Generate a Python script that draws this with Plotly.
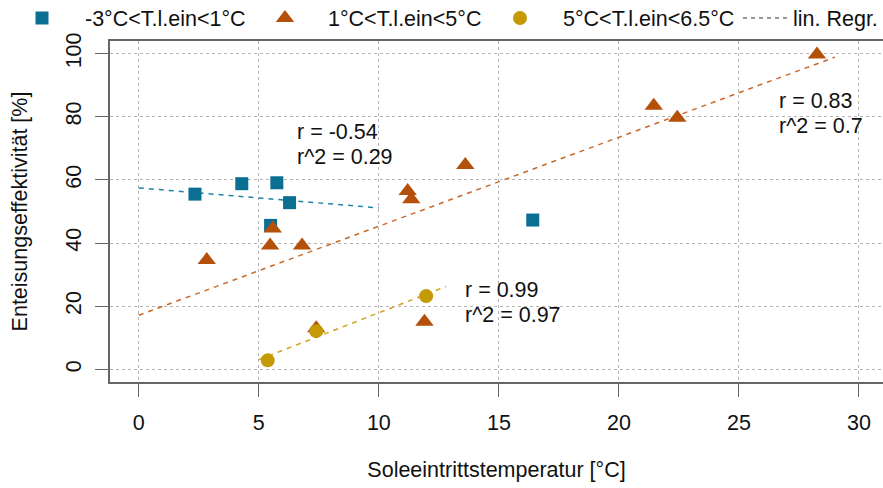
import numpy as np
import plotly.graph_objects as go

# Brine inlet temperature [°C] vs. de-icing effectiveness [%], grouped by T.l.ein
x_cold = [2.34, 4.29, 5.75, 6.28, 5.49, 16.41]
y_cold = [55.5, 58.8, 59.1, 52.8, 45.6, 47.3]

x_mid = [2.83, 5.47, 5.58, 6.80, 7.39, 11.20, 11.35, 11.90, 13.60, 21.45, 22.43, 28.25]
y_mid = [34.6, 39.2, 44.6, 39.2, 13.0, 56.5, 53.9, 15.1, 64.7, 83.5, 79.7, 99.7]

x_warm = [5.37, 7.39, 11.97]
y_warm = [2.85, 12.1, 23.2]

# x-span over which each fitted line is drawn
span_cold = [0, 10]
span_mid = [0, 29]
span_warm = [5.0, 12.8]

names = ["-3°C<T.l.ein<1°C", "1°C<T.l.ein<5°C", "5°C<T.l.ein<6.5°C", "lin. Regr."]
stats_cold = ["r = -0.54", "r^2 = 0.29"]
stats_mid = ["r = 0.83", "r^2 = 0.7"]
stats_warm = ["r = 0.99", "r^2 = 0.97"]

x_ticks = [0, 5, 10, 15, 20, 25, 30]
y_ticks = [0, 20, 40, 60, 80, 100]

FONT = "Liberation Sans, Arial, sans-serif"
FS = 21.5
C_COLD, C_MID, C_WARM = "#0a6f92", "#b4500a", "#c49a06"
L_COLD, L_MID, L_WARM = "#1f84a6", "#c9692a", "#d2a41c"

fig = go.Figure()


def fit_line(xs, ys, span, color):
    slope, icpt = np.polyfit(xs, ys, 1)
    xx = np.array(span, dtype=float)
    fig.add_trace(go.Scatter(
        x=xx, y=slope * xx + icpt, mode="lines", showlegend=False,
        line=dict(color=color, width=1.5, dash="5px,5px"), hoverinfo="skip"))


fit_line(x_cold, y_cold, span_cold, L_COLD)
fit_line(x_mid, y_mid, span_mid, L_MID)
fit_line(x_warm, y_warm, span_warm, L_WARM)

fig.add_trace(go.Scatter(x=x_cold, y=y_cold, mode="markers", name=names[0],
                         legendwidth=152,
                         marker=dict(symbol="square", size=13, color=C_COLD)))
fig.add_trace(go.Scatter(x=x_mid, y=y_mid, mode="markers", name=names[1],
                         legendwidth=144,
                         marker=dict(symbol="triangle-up", size=16, color=C_MID)))
fig.add_trace(go.Scatter(x=x_warm, y=y_warm, mode="markers", name=names[2],
                         legendwidth=185,
                         marker=dict(symbol="circle", size=14, color=C_WARM)))
fig.add_trace(go.Scatter(x=[None], y=[None], mode="lines", name=names[3],
                         legend="legend2",
                         line=dict(color="#333333", width=1.2, dash="4px,4px")))

# correlation labels
for (tx, ty0), lines in [((6.52, 75.3), stats_cold),
                         ((26.57, 85.1), stats_mid),
                         ((13.5, 25.0), stats_warm)]:
    for i, t in enumerate(lines):
        fig.add_annotation(x=tx, y=ty0 - 7.9 * i, text=t, showarrow=False,
                           xanchor="left", yanchor="middle",
                           font=dict(family=FONT, size=FS, color="#111111"))

axis_common = dict(
    showgrid=True, gridcolor="#b4b4b4", griddash="dot", gridwidth=1,
    zeroline=False, ticks="outside", ticklen=13, tickwidth=1.3,
    tickcolor="#666666", showline=True, linecolor="#666666", linewidth=1.5,
    tickfont=dict(family=FONT, size=FS, color="#111111"),
)

legend_font = dict(family=FONT, size=FS, color="#111111")

fig.update_layout(
    width=883, height=488,
    margin=dict(l=110, r=0, t=41, b=106, autoexpand=False),
    paper_bgcolor="white", plot_bgcolor="white",
    font=dict(family=FONT, size=FS, color="#111111"),
    xaxis=dict(axis_common, range=[-1.2, 31.0], tickvals=x_ticks, mirror=True,
               ticklabelstandoff=7,
               title=dict(text="Soleeintrittstemperatur [°C]", standoff=28,
                          font=dict(family=FONT, size=FS))),
    yaxis=dict(axis_common, range=[-4, 104], tickvals=y_ticks, tickangle=-90,
               ticklabelstandoff=6,
               title=dict(text="Enteisungseffektivität [%]", standoff=28,
                          font=dict(family=FONT, size=FS))),
    legend=dict(orientation="h", x=-0.1436, xanchor="left", y=1.0674,
                yanchor="middle", bgcolor="rgba(0,0,0,0)", font=legend_font,
                itemwidth=76),
    legend2=dict(orientation="h", x=(738 - 110) / 773, xanchor="left",
                 y=1.0674, yanchor="middle", bgcolor="rgba(0,0,0,0)",
                 font=legend_font, itemwidth=45),
    showlegend=True,
)

fig.write_html("out.html")
